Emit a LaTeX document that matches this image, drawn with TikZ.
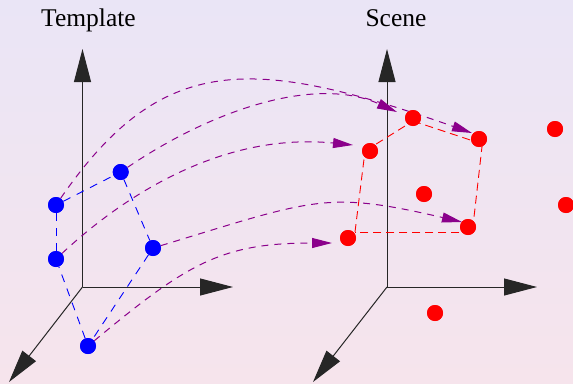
\documentclass[tikz,border=0pt]{standalone}
\usepackage{fontspec}
\setmainfont{Liberation Serif}
\usetikzlibrary{arrows.meta}
\definecolor{bgtop}{RGB}{234,229,246}
\definecolor{bgbot}{RGB}{246,228,236}
\definecolor{arcpurple}{RGB}{139,0,139}
\begin{document}
\begin{tikzpicture}[x=1pt,y=-1pt,
  pt/.style={circle,inner sep=0pt,minimum size=16pt},
  bpt/.style={pt,fill=blue},
  rpt/.style={pt,fill=red},
  axis/.style={line width=1pt,black!85,-{Triangle[length=33pt,width=17pt]}},
  bdash/.style={blue,line width=0.9pt,dash pattern=on 8pt off 7pt},
  rdash/.style={red,line width=0.9pt,dash pattern=on 8pt off 5pt},
  marc/.style={arcpurple,line width=1pt,dash pattern=on 7pt off 6pt,-{Triangle[length=20pt,width=10pt]}},
  lbl/.style={anchor=base,inner sep=0pt,font=\fontsize{25.5}{30}\selectfont}]
\useasboundingbox (0,0) rectangle (573,383);
\shade[top color=bgtop,bottom color=bgbot] (0,0) rectangle (573,383);

% labels
\node[lbl] (tmpl) at (88.5,26.7) {Template};
\node[lbl] (scn) at (396,26.7) {Scene};

% axes
\coordinate (O1) at (82.5,287);
\coordinate (Y1) at (82.5,49);
\coordinate (X1) at (233,287);
\coordinate (Z1) at (9,382);
\coordinate (O2) at (387,287);
\coordinate (Y2) at (387,49);
\coordinate (X2) at (537,287);
\coordinate (Z2) at (313,382);
\draw[axis] (O1) -- (Y1);
\draw[axis] (O1) -- (X1);
\draw[axis] (O1) -- (Z1);
\draw[axis] (O2) -- (Y2);
\draw[axis] (O2) -- (X2);
\draw[axis] (O2) -- (Z2);

% points (placed first so connectors can refer to them)
\node[bpt] (P1) at (120.7,172) {};
\node[bpt] (P2) at (56,205) {};
\node[bpt] (P3) at (56,259) {};
\node[bpt] (P4) at (153,248) {};
\node[bpt] (P5) at (88,346) {};

\node[rpt] (R1) at (413,118) {};
\node[rpt] (R2) at (479,139) {};
\node[rpt] (R3) at (370,151) {};
\node[rpt] (R4) at (555,129) {};
\node[rpt] (R5) at (424,194) {};
\node[rpt] (R6) at (566,205) {};
\node[rpt] (R7) at (348,238) {};
\node[rpt] (R8) at (468,227) {};
\node[rpt] (R9) at (435,313) {};

% template polygon
\draw[bdash] (P2) -- (P1);
\draw[bdash] (P1) -- (P4);
\draw[bdash] (P4) -- (P5);
\draw[bdash] (P5) -- (P3);
\draw[bdash] (P3) -- (P2);

% scene polygon (its corners sit slightly off the point centres)
\coordinate (V3) at (365,151);
\coordinate (V1) at (413,121);
\coordinate (V2) at (482.3,144);
\coordinate (V8) at (472.3,232);
\coordinate (V7) at (355,232);
\draw[rdash] (V3) -- (V1);
\draw[rdash] (V1) -- (V2);
\draw[rdash] (V2) -- (V8);
\draw[rdash] (V8) -- (V7);
\draw[rdash] (V7) -- (V3);

% correspondence arcs
\coordinate (tA) at (472,133);
\coordinate (tB) at (397,112);
\coordinate (tC) at (353,145);
\coordinate (tD) at (462,222);
\coordinate (tE) at (332,243);
\draw[marc] (P2) .. controls (161.5,52.3) and (251,55.5) .. (tA);
\draw[marc] (P1) .. controls (211.3,110.4) and (315,75) .. (tB);
\draw[marc] (P3) .. controls (136.3,184.2) and (233,133) .. (tC);
\draw[marc] (P4) .. controls (315.5,198.7) and (325.6,190.5) .. (tD);
\draw[marc] (P5) .. controls (188,262.8) and (222,243) .. (tE);

% redraw points on top
\foreach \x/\y in {120.7/172,56/205,56/259,153/248,88/346}
  \fill[blue] (\x,\y) circle (8pt);
\foreach \x/\y in {413/118,479/139,370/151,555/129,424/194,566/205,348/238,468/227,435/313}
  \fill[red] (\x,\y) circle (8pt);
\end{tikzpicture}
\end{document}
